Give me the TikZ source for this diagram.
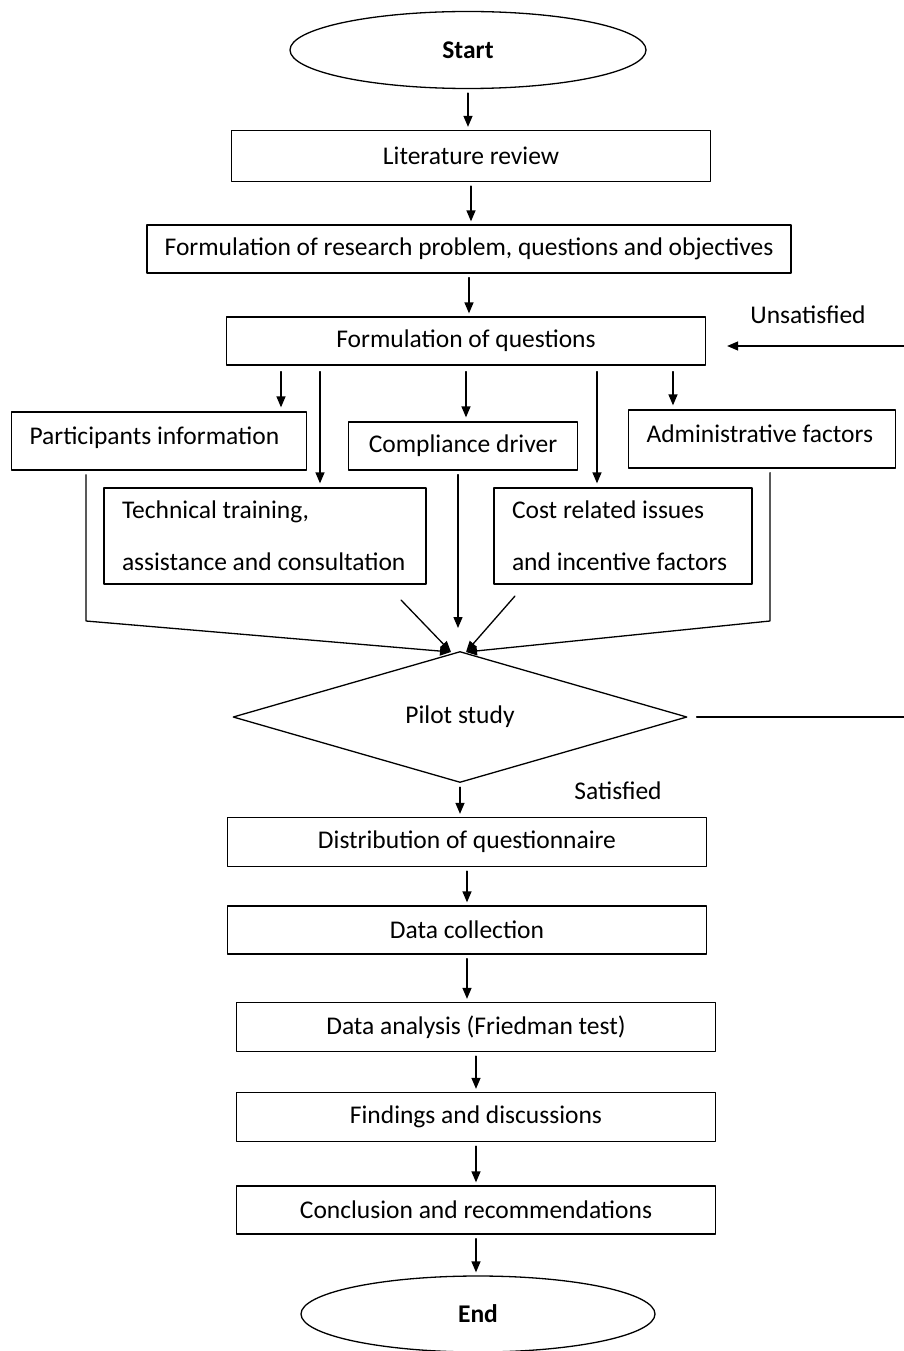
\documentclass[tikz,border=0pt]{standalone}
\usepackage{fontspec}
\setmainfont{Carlito}
\usetikzlibrary{arrows.meta,shapes.geometric}

\begin{document}
\begin{tikzpicture}[x=1pt, y=-1pt, line cap=round, line join=round,
    font=\fontsize{25.5}{31}\selectfont,
    box/.style={draw, line width=1.3pt, inner sep=0pt},
    lbox/.style={box, align=flush left, inner xsep=18pt},
    term/.style={draw, ellipse, line width=1.3pt, inner sep=0pt, font=\fontsize{25.5}{31}\selectfont\bfseries},
    arr/.style={-{Triangle[length=11pt,width=9pt]}, line width=1.3pt},
    link/.style={line width=1.3pt}]
  \useasboundingbox (0,0) rectangle (904,1351);

  % main column
  \node[term, minimum width=356, minimum height=77] (start) at (468,50) {Start};
  \node[box, minimum width=479, minimum height=51] (lit) at (471,156) {Literature review};
  \node[box, minimum width=644, minimum height=48] (prob) at (469,249) {Formulation of research problem, questions and objectives};
  \node[box, minimum width=479, minimum height=48] (q) at (466,341) {Formulation of questions};

  % factors
  \node[lbox, minimum width=295, minimum height=58, text width=259, text depth=11pt] (part) at (159,441) {Participants information};
  \node[box, minimum width=229, minimum height=48] (comp) at (463,446) {Compliance driver};
  \node[lbox, minimum width=267, minimum height=58, text width=231, text depth=10pt] (admin) at (762,439) {Administrative factors};
  \node[lbox, minimum width=322, minimum height=96, text width=286] (tech) at (265,536)
    {Technical training,\\[21pt]assistance and consultation};
  \node[lbox, minimum width=258, minimum height=96, text width=222] (cost) at (623,536)
    {Cost related issues\\[21pt]and incentive factors};

  \node[draw, diamond, line width=1.3pt, inner sep=0pt, minimum width=454, minimum height=120] (pilot) at (460,717) {Pilot study};

  \node[box, minimum width=479, minimum height=49] (dist) at (467,842) {Distribution of questionnaire};
  \node[box, minimum width=479, minimum height=48] (dc) at (467,930) {Data collection};
  \node[box, minimum width=479, minimum height=49] (da) at (476,1027) {Data analysis (Friedman test)};
  \node[box, minimum width=479, minimum height=49] (fd) at (476,1117) {Findings and discussions};
  \node[box, minimum width=479, minimum height=48] (cr) at (476,1210) {Conclusion and recommendations};
  \node[term, minimum width=354, minimum height=76] (end) at (478,1314) {End};

  \node (unsat) at (808,315) {Unsatisfied};
  \node (sat) at (618,791) {Satisfied};

  \foreach \a/\b in {start/lit, lit/prob, prob/q, pilot/dist, dist/dc, dc/da, da/fd, fd/cr, cr/end}
    \draw[arr, shorten <=4pt, shorten >=3pt] (\a.south) -- (\a.south |- \b.north);

  \foreach \x/\t in {281/part, 320/tech, 466/comp, 597/cost, 673/admin} {
    \coordinate (d\t) at (\x,0);
    \draw[arr, shorten <=6pt, shorten >=4pt] (d\t |- q.south) -- (d\t |- \t.north);
  }

  % joining into the pilot study
  \coordinate (inL) at (451,652);
  \coordinate (inR) at (466,652);
  \coordinate (pb) at (86,621);
  \coordinate (ab) at (770,621);
  \coordinate (tt) at (401,600);
  \coordinate (cc) at (515,596);
  \coordinate (cd) at (458,628);
  \draw[arr, shorten <=4pt] (pb |- part.south) -- (pb) -- (inL);
  \draw[arr, shorten <=4pt] (ab |- admin.south) -- (ab) -- (inR);
  \draw[arr] (tt) -- (inL);
  \draw[arr] (cc) -- (inR);
  \draw[arr, shorten <=4pt] (cd |- comp.south) -- (cd);

  % back to the questions
  \coordinate (back) at (904,346);
  \draw[link, shorten <=9pt] (pilot.east) -- (pilot.east -| back);
  \draw[arr, shorten >=21pt] (back) -- (back -| q.east);
\end{tikzpicture}
\end{document}
